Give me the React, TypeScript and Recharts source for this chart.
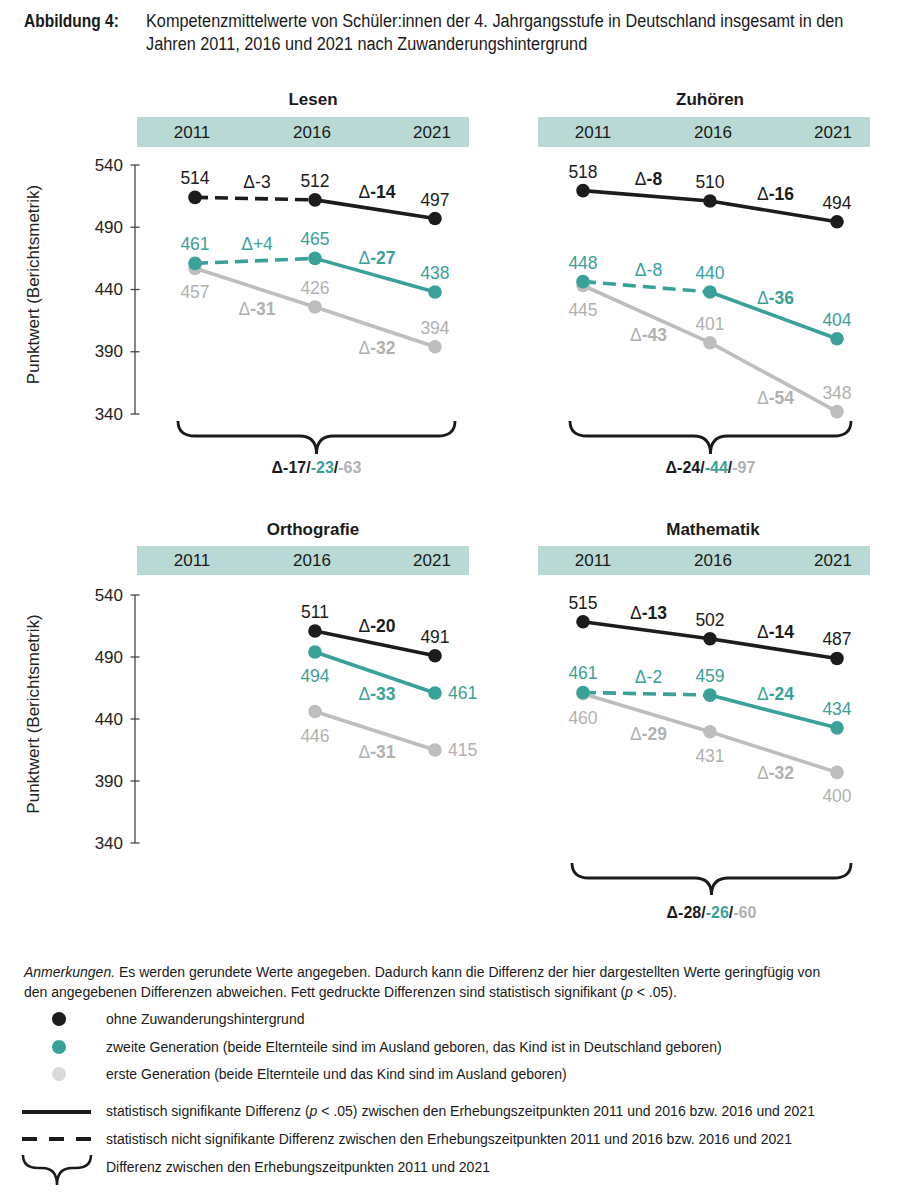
import React from 'react';
import { LineChart, Line, XAxis, YAxis, ReferenceDot, LabelList } from 'recharts';

// ---------- data ----------
const years = [2011, 2016, 2021];

// Lesen
const lesenOhne = [514, 512, 497];
const lesenZweite = [461, 465, 438];
const lesenErste = [457, 426, 394];
const lesenDeltaOhne = ['-3', '-14'];
const lesenDeltaZweite = ['+4', '-27'];
const lesenDeltaErste = ['-31', '-32'];
const lesenSigOhne = [false, true];
const lesenSigZweite = [false, true];
const lesenSigErste = [true, true];
const lesenTotal = ['-17', '-23', '-63'];

// Zuhören
const zuhoerenOhne = [518, 510, 494];
const zuhoerenZweite = [448, 440, 404];
const zuhoerenErste = [445, 401, 348];
const zuhoerenDeltaOhne = ['-8', '-16'];
const zuhoerenDeltaZweite = ['-8', '-36'];
const zuhoerenDeltaErste = ['-43', '-54'];
const zuhoerenSigOhne = [true, true];
const zuhoerenSigZweite = [false, true];
const zuhoerenSigErste = [true, true];
const zuhoerenTotal = ['-24', '-44', '-97'];

// Orthografie
const orthoOhne = [null, 511, 491];
const orthoZweite = [null, 494, 461];
const orthoErste = [null, 446, 415];
const orthoDeltaOhne = [null, '-20'];
const orthoDeltaZweite = [null, '-33'];
const orthoDeltaErste = [null, '-31'];
const orthoSigOhne = [true, true];
const orthoSigZweite = [true, true];
const orthoSigErste = [true, true];

// Mathematik
const matheOhne = [515, 502, 487];
const matheZweite = [461, 459, 434];
const matheErste = [460, 431, 400];
const matheDeltaOhne = ['-13', '-14'];
const matheDeltaZweite = ['-2', '-24'];
const matheDeltaErste = ['-29', '-32'];
const matheSigOhne = [true, true];
const matheSigZweite = [false, true];
const matheSigErste = [true, true];
const matheTotal = ['-28', '-26', '-60'];

const yTicks = [340, 390, 440, 490, 540];

// ---------- styles ----------
type Group = 'ohne' | 'zweite' | 'erste';
const drawOrder: Group[] = ['erste', 'zweite', 'ohne'];
const LINE: Record<Group, string> = { ohne: '#1c1c1c', zweite: '#3aa199', erste: '#bebebe' };
const TXT: Record<Group, string> = { ohne: '#1c1c1c', zweite: '#3aa199', erste: '#b1b1b1' };
const FONT = "'Liberation Sans', Arial, Helvetica, sans-serif";

type Pos = 'top' | 'bottom' | 'right' | null;

interface Panel {
  title: string;
  values: Record<Group, (number | null)[]>;
  deltas: Record<Group, (string | null)[]>;
  sig: Record<Group, boolean[]>;
  valuePos: Record<Group, Pos[]>;
  deltaPos: Record<Group, Pos[]>;
  showY: boolean;
  left: number; top: number; width: number; height: number;
  plotLeft: number; plotRight: number; plotTop: number; plotBottom: number;
  px2011: number; px2021: number;
  bandLeft: number; bandRight: number; bandTop: number; bandBottom: number;
  band2011: number; band2021: number;
  titleX: number; titleY: number;
}

const panels: Panel[] = [
  {
    title: 'Lesen',
    values: { ohne: lesenOhne, zweite: lesenZweite, erste: lesenErste },
    deltas: { ohne: lesenDeltaOhne, zweite: lesenDeltaZweite, erste: lesenDeltaErste },
    sig: { ohne: lesenSigOhne, zweite: lesenSigZweite, erste: lesenSigErste },
    valuePos: { ohne: ['top', 'top', 'top'], zweite: ['top', 'top', 'top'], erste: ['bottom', 'top', 'top'] },
    deltaPos: { ohne: ['top', 'top'], zweite: ['top', 'top'], erste: ['bottom', 'bottom'] },
    showY: true,
    left: 0, top: 60, width: 490, height: 385,
    plotLeft: 135, plotRight: 475, plotTop: 165, plotBottom: 414,
    px2011: 195, px2021: 435,
    bandLeft: 137, bandRight: 469, bandTop: 117, bandBottom: 147, band2011: 192, band2021: 432,
    titleX: 313, titleY: 100,
  },
  {
    title: 'Zuhören',
    values: { ohne: zuhoerenOhne, zweite: zuhoerenZweite, erste: zuhoerenErste },
    deltas: { ohne: zuhoerenDeltaOhne, zweite: zuhoerenDeltaZweite, erste: zuhoerenDeltaErste },
    sig: { ohne: zuhoerenSigOhne, zweite: zuhoerenSigZweite, erste: zuhoerenSigErste },
    valuePos: { ohne: ['top', 'top', 'top'], zweite: ['top', 'top', 'top'], erste: ['bottom', 'top', 'top'] },
    deltaPos: { ohne: ['top', 'top'], zweite: ['top', 'top'], erste: ['bottom', 'bottom'] },
    showY: false,
    left: 520, top: 60, width: 392, height: 385,
    plotLeft: 530, plotRight: 885, plotTop: 162, plotBottom: 422,
    px2011: 583, px2021: 837,
    bandLeft: 538, bandRight: 870, bandTop: 117, bandBottom: 147, band2011: 593, band2021: 833,
    titleX: 710, titleY: 100,
  },
  {
    title: 'Orthografie',
    values: { ohne: orthoOhne, zweite: orthoZweite, erste: orthoErste },
    deltas: { ohne: orthoDeltaOhne, zweite: orthoDeltaZweite, erste: orthoDeltaErste },
    sig: { ohne: orthoSigOhne, zweite: orthoSigZweite, erste: orthoSigErste },
    valuePos: { ohne: [null, 'top', 'top'], zweite: [null, 'bottom', 'right'], erste: [null, 'bottom', 'right'] },
    deltaPos: { ohne: [null, 'top'], zweite: [null, 'bottom'], erste: [null, 'bottom'] },
    showY: true,
    left: 0, top: 490, width: 490, height: 380,
    plotLeft: 135, plotRight: 475, plotTop: 595, plotBottom: 843,
    px2011: 195, px2021: 435,
    bandLeft: 137, bandRight: 469, bandTop: 546, bandBottom: 575, band2011: 192, band2021: 432,
    titleX: 313, titleY: 530,
  },
  {
    title: 'Mathematik',
    values: { ohne: matheOhne, zweite: matheZweite, erste: matheErste },
    deltas: { ohne: matheDeltaOhne, zweite: matheDeltaZweite, erste: matheDeltaErste },
    sig: { ohne: matheSigOhne, zweite: matheSigZweite, erste: matheSigErste },
    valuePos: { ohne: ['top', 'top', 'top'], zweite: ['top', 'top', 'top'], erste: ['bottom', 'bottom', 'bottom'] },
    deltaPos: { ohne: ['top', 'top'], zweite: ['top', 'top'], erste: ['bottom', 'bottom'] },
    showY: false,
    left: 520, top: 490, width: 392, height: 380,
    plotLeft: 530, plotRight: 885, plotTop: 589, plotBottom: 851,
    px2011: 583, px2021: 837,
    bandLeft: 538, bandRight: 870, bandTop: 546, bandBottom: 575, band2011: 593, band2021: 833,
    titleX: 713, titleY: 530,
  },
];

interface BraceSpec { total: string[]; x0: number; x1: number; yTop: number; yMid: number; yTip: number; textY: number }
const braces: BraceSpec[] = [
  { total: lesenTotal, x0: 178, x1: 455, yTop: 421, yMid: 436, yTip: 454, textY: 468 },
  { total: zuhoerenTotal, x0: 570, x1: 851, yTop: 421, yMid: 436, yTip: 454, textY: 468 },
  { total: matheTotal, x0: 572, x1: 851, yTop: 863, yMid: 878, yTip: 895, textY: 913 },
];

const groupsAll: Group[] = ['ohne', 'zweite', 'erste'];

function buildRows(p: Panel) {
  return years.map((year, i) => {
    const row: Record<string, number | null> = { year };
    groupsAll.forEach((g) => {
      const v = p.values[g];
      row[g] = v[i];
      row[g + '_s0'] = i <= 1 ? v[i] : null;
      row[g + '_s1'] = i >= 1 ? v[i] : null;
    });
    return row;
  });
}

function bracePath(x0: number, x1: number, yTop: number, yMid: number, yTip: number) {
  const xm = (x0 + x1) / 2;
  const r = Math.min(yMid - yTop + 2, (x1 - x0) / 4);
  return `M${x0},${yTop} Q${x0},${yMid} ${x0 + r},${yMid} L${xm - r},${yMid} Q${xm},${yMid} ${xm},${yTip} Q${xm},${yMid} ${xm + r},${yMid} L${x1 - r},${yMid} Q${x1},${yMid} ${x1},${yTop}`;
}

const PanelChart: React.FC<{ p: Panel }> = ({ p }) => {
  const rows = buildRows(p);
  const k = (p.px2021 - p.px2011) / 10;
  const dataDomain = [2011 - (p.px2011 - p.plotLeft) / k, 2021 + (p.plotRight - p.px2021) / k];
  const kb = (p.band2021 - p.band2011) / 10;
  const bandDomain = [2011 - (p.band2011 - p.plotLeft) / kb, 2021 + (p.plotRight - p.band2021) / kb];
  const bandTextY = (p.bandTop + p.bandBottom) / 2;
  const yAxisWidth = p.showY ? p.plotLeft - p.left : 0;
  const margin = {
    top: 0,
    left: p.showY ? 0 : p.plotLeft - p.left,
    right: p.left + p.width - p.plotRight,
    bottom: p.top + p.height - p.plotBottom,
  };

  const bandTick = (props: any) => (
    <text x={props.x} y={props.y + (bandTextY - p.plotTop)} textAnchor="middle" dominantBaseline="central"
      fontSize={17} fill="#1a1a1a" fontFamily={FONT}>{props.payload.value}</text>
  );

  const yTick = (props: any) => {
    const ax = props.x + 12;
    return (
      <g>
        <line x1={ax - 4.5} x2={ax + 4.5} y1={props.y} y2={props.y} stroke="#444" strokeWidth={1.3} />
        <text x={props.x} y={props.y} textAnchor="end" dominantBaseline="central" fontSize={17} fill="#222" fontFamily={FONT}>{props.payload.value}</text>
      </g>
    );
  };

  const yLabel = (props: any) => {
    const vb = props.viewBox || {};
    const cx = 33;
    const cy = (vb.y ?? 0) + (vb.height ?? 0) / 2 - 5;
    return (
      <text x={cx} y={cy} transform={`rotate(-90, ${cx}, ${cy})`} textAnchor="middle" dominantBaseline="central"
        fontSize={17} fill="#222" fontFamily={FONT}>Punktwert (Berichtsmetrik)</text>
    );
  };

  const valueLabel = (g: Group) => (props: any) => {
    const { x, y, value, index } = props;
    const pos = p.valuePos[g][index];
    if (value == null || pos == null) return null;
    let tx = x, ty = y, anchor = 'middle';
    if (pos === 'top') ty = y - 19;
    else if (pos === 'bottom') ty = y + 24;
    else { tx = x + 13; anchor = 'start'; }
    return (
      <text key={`${g}-${index}`} x={tx} y={ty} textAnchor={anchor} dominantBaseline="central" fontSize={17.5}
        fill={TXT[g]} fontFamily={FONT}>{value}</text>
    );
  };

  const deltaDots: React.ReactNode[] = [];
  groupsAll.forEach((g) => {
    [0, 1].forEach((s) => {
      const d = p.deltas[g][s];
      const v0 = p.values[g][s];
      const v1 = p.values[g][s + 1];
      if (d == null || v0 == null || v1 == null) return;
      const pos = p.deltaPos[g][s];
      const bold = p.sig[g][s];
      deltaDots.push(
        <ReferenceDot key={`d-${g}-${s}`} xAxisId="data" x={(years[s] + years[s + 1]) / 2} y={(v0 + v1) / 2} r={0}
          ifOverflow="visible"
          shape={(sp: any) => (
            <text x={sp.cx + 2} y={sp.cy + (pos === 'top' ? -17 : 21)} textAnchor="middle" dominantBaseline="central"
              fontSize={17.5} fill={TXT[g]} fontFamily={FONT}>
              <tspan>Δ</tspan><tspan fontWeight={bold ? 700 : 400}>{d}</tspan>
            </text>
          )}
        />
      );
    });
  });

  return (
    <div style={{ position: 'absolute', left: p.left, top: p.top }}>
      <LineChart width={p.width} height={p.height} data={rows} margin={margin}>
        <XAxis xAxisId="data" dataKey="year" type="number" domain={dataDomain} allowDataOverflow hide ticks={years} />
        <XAxis xAxisId="band" dataKey="year" type="number" domain={bandDomain} allowDataOverflow orientation="top"
          height={p.plotTop - p.top} ticks={years} interval={0} axisLine={false} tickLine={false} tickSize={0}
          tickMargin={0} tick={bandTick} />
        <YAxis domain={[340, 540]} ticks={yTicks} allowDataOverflow hide={!p.showY} width={yAxisWidth} interval={0}
          axisLine={{ stroke: '#444', strokeWidth: 1.3 }} tickLine={false} tickSize={6} tickMargin={6} tick={yTick}
          label={p.showY ? yLabel : undefined} />
        {drawOrder.map((g) =>
          [0, 1].map((s) => (
            <Line key={`${g}-s${s}`} xAxisId="data" dataKey={`${g}_s${s}`} stroke={LINE[g]} strokeWidth={3.6}
              strokeDasharray={p.sig[g][s] ? undefined : '13 7'} dot={false} activeDot={false}
              isAnimationActive={false} connectNulls={false} />
          ))
        )}
        {drawOrder.map((g) => (
          <Line key={`${g}-dots`} xAxisId="data" dataKey={g} stroke="none" strokeWidth={0}
            dot={{ r: 6.8, fill: LINE[g], stroke: 'none', strokeWidth: 0 }} activeDot={false} isAnimationActive={false}>
            <LabelList dataKey={g} content={valueLabel(g)} />
          </Line>
        ))}
        {deltaDots}
      </LineChart>
    </div>
  );
};

const TextBlock: React.FC<{ left: number; top: number; size: number; lh?: number; bold?: boolean; sq?: number; children: React.ReactNode }> =
  ({ left, top, size, lh, bold, sq, children }) => (
    <div style={{
      position: 'absolute', left, top, fontFamily: FONT, fontSize: size, lineHeight: `${lh ?? size + 4}px`,
      fontWeight: bold ? 700 : 400, color: '#1a1a1a', whiteSpace: 'nowrap',
      transform: sq ? `scaleX(${sq})` : undefined, transformOrigin: 'left top',
    }}>{children}</div>
  );

const App: React.FC = () => {
  return (
    <div style={{ position: 'absolute', left: 0, top: 0, width: 912, height: 1200, background: '#fff', overflow: 'hidden', fontFamily: FONT }}>
      {/* heading (condensed face) */}
      <TextBlock left={24} top={10} size={18} lh={23} bold sq={0.863}>Abbildung 4:</TextBlock>
      <TextBlock left={146} top={10} size={18} lh={23} sq={0.904}>
        Kompetenzmittelwerte von Schüler:innen der 4. Jahrgangsstufe in Deutschland insgesamt in den<br />
        Jahren 2011, 2016 und 2021 nach Zuwanderungshintergrund
      </TextBlock>

      {panels.map((p) => (
        <React.Fragment key={p.title}>
          <div style={{ position: 'absolute', left: p.titleX - 100, width: 200, top: p.titleY - 10, height: 20, lineHeight: '20px', textAlign: 'center', fontWeight: 700, fontSize: 17, color: '#1a1a1a' }}>{p.title}</div>
          <div style={{ position: 'absolute', left: p.bandLeft, top: p.bandTop, width: p.bandRight - p.bandLeft, height: p.bandBottom - p.bandTop, background: '#b8d9d4' }} />
          <PanelChart p={p} />
        </React.Fragment>
      ))}

      {/* braces */}
      <svg style={{ position: 'absolute', left: 0, top: 0 }} width={912} height={1200}>
        {braces.map((b, i) => (
          <path key={i} d={bracePath(b.x0, b.x1, b.yTop, b.yMid, b.yTip)} fill="none" stroke="#1a1a1a" strokeWidth={2.8} />
        ))}
        {/* legend symbols */}
        <circle cx={59} cy={1019} r={7} fill="#1c1c1c" />
        <circle cx={59} cy={1047} r={7} fill="#3aa199" />
        <circle cx={59} cy={1074} r={7} fill="#d9dadc" />
        <line x1={22} x2={91} y1={1112} y2={1112} stroke="#1a1a1a" strokeWidth={4} />
        <line x1={22} x2={91} y1={1139} y2={1139} stroke="#1a1a1a" strokeWidth={4} strokeDasharray="15 12" />
        <path d={bracePath(23, 91, 1155, 1168, 1185)} fill="none" stroke="#1a1a1a" strokeWidth={2.5} />
      </svg>
      {braces.map((b, i) => {
        const cx = (b.x0 + b.x1) / 2;
        return (
          <div key={`bt${i}`} style={{ position: 'absolute', left: cx - 100, width: 200, top: b.textY - 10, height: 20, lineHeight: '20px', textAlign: 'center', fontFamily: FONT, fontWeight: 700, fontSize: 16 }}>
            <span style={{ color: TXT.ohne }}>Δ{b.total[0]}/</span>
            <span style={{ color: TXT.zweite }}>{b.total[1]}</span>
            <span style={{ color: TXT.ohne }}>/</span>
            <span style={{ color: TXT.erste }}>{b.total[2]}</span>
          </div>
        );
      })}

      {/* notes */}
      <TextBlock left={24} top={962} size={14} lh={20}>
        <i>Anmerkungen.</i> Es werden gerundete Werte angegeben. Dadurch kann die Differenz der hier dargestellten Werte geringfügig von<br />
        den angegebenen Differenzen abweichen. Fett gedruckte Differenzen sind statistisch signifikant (<i>p</i> &lt; .05).
      </TextBlock>
      {[
        { y: 1019, t: <>ohne Zuwanderungshintergrund</> },
        { y: 1047, t: <>zweite Generation (beide Elternteile sind im Ausland geboren, das Kind ist in Deutschland geboren)</> },
        { y: 1074, t: <>erste Generation (beide Elternteile und das Kind sind im Ausland geboren)</> },
        { y: 1111, t: <>statistisch signifikante Differenz (<i>p</i> &lt; .05) zwischen den Erhebungszeitpunkten 2011 und 2016 bzw. 2016 und 2021</> },
        { y: 1139, t: <>statistisch nicht signifikante Differenz zwischen den Erhebungszeitpunkten 2011 und 2016 bzw. 2016 und 2021</> },
        { y: 1167, t: <>Differenz zwischen den Erhebungszeitpunkten 2011 und 2021</> },
      ].map((r, i) => (
        <TextBlock key={`lg${i}`} left={106} top={r.y - 10} size={14} lh={20}>{r.t}</TextBlock>
      ))}
    </div>
  );
};

export default App;
